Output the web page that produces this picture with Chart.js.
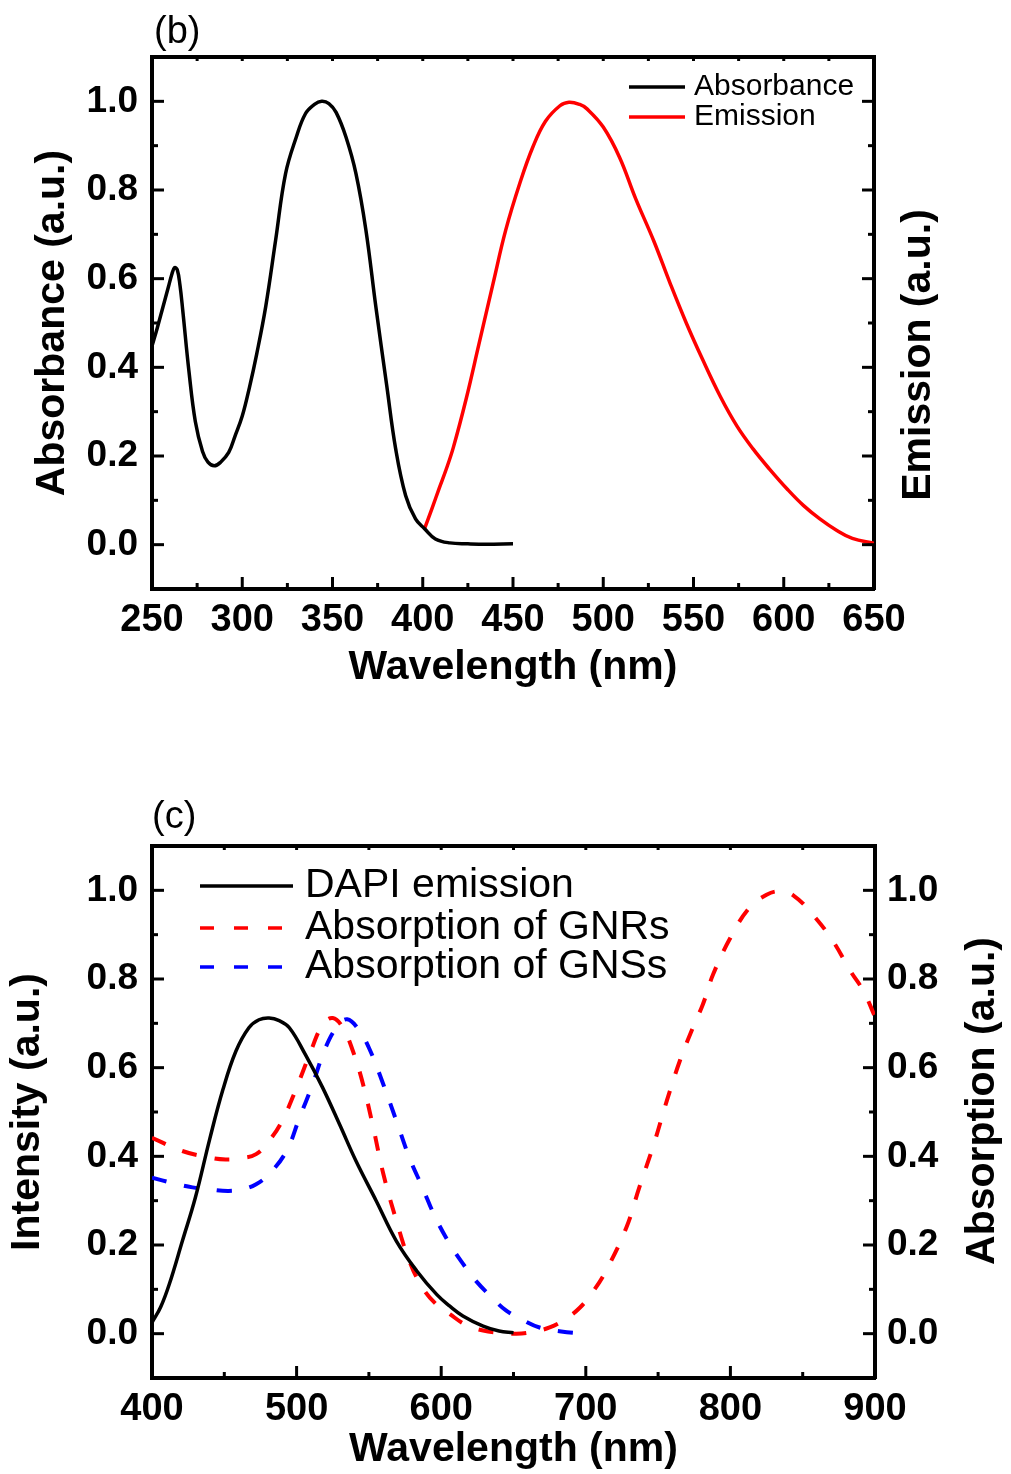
<!DOCTYPE html>
<html>
<head>
<meta charset="utf-8">
<script src="https://cdn.jsdelivr.net/npm/chart.js@4.4.0/dist/chart.umd.min.js"></script>
<style>
  html, body { margin: 0; padding: 0; background: #fff; }
  #wrap { position: relative; width: 1011px; height: 1474px; }
  canvas { position: absolute; left: 0; }
</style>
</head>
<body>
<div id="wrap">
  <canvas id="chartB" width="1011" height="737" style="top:0"></canvas>
  <canvas id="chartC" width="1011" height="737" style="top:737px"></canvas>
</div>
<script>
// (b) absorbance / emission
const absWl = [250, 253, 256, 259, 261, 262.5, 264, 265.5, 267, 270.5, 274, 278, 281, 284.5, 288, 292.5, 296, 300, 304, 308, 313, 318.5, 324, 330, 335, 340, 344, 348, 352, 357.5, 363, 368.5, 374, 380, 385, 390.5, 396, 401, 407, 415, 425, 435, 450];
const absVal = [0.448, 0.49, 0.535, 0.58, 0.61, 0.625, 0.62, 0.585, 0.53, 0.39, 0.278, 0.21, 0.186, 0.178, 0.186, 0.208, 0.245, 0.29, 0.355, 0.43, 0.537, 0.687, 0.837, 0.92, 0.972, 0.993, 1.0, 0.995, 0.975, 0.919, 0.837, 0.71, 0.537, 0.36, 0.216, 0.111, 0.058, 0.036, 0.013, 0.004, 0.002, 0.001, 0.002];
const emWl = [401, 405, 409, 413, 417, 424, 431, 439, 446, 454, 461, 468, 476, 481, 487, 491, 500, 509, 518, 528, 537, 546, 555, 565, 574, 583, 592, 602, 611, 620, 629, 638, 650];
const emVal = [0.036, 0.08, 0.126, 0.17, 0.22, 0.328, 0.45, 0.59, 0.71, 0.818, 0.897, 0.955, 0.99, 0.998, 0.993, 0.983, 0.942, 0.874, 0.78, 0.685, 0.59, 0.5, 0.418, 0.333, 0.268, 0.216, 0.171, 0.125, 0.088, 0.058, 0.033, 0.014, 0.003];

// (c) DAPI emission and gold nanoparticle absorption
const dapiWl = [400, 406, 412, 421, 430, 440, 449, 458, 467, 474, 481, 488, 495, 506, 518, 530, 541, 555, 569, 583, 597, 606, 615, 629, 640, 650];
const dapiVal = [0.025, 0.06, 0.112, 0.209, 0.307, 0.44, 0.55, 0.637, 0.69, 0.708, 0.712, 0.706, 0.69, 0.63, 0.555, 0.47, 0.39, 0.3, 0.209, 0.142, 0.088, 0.062, 0.04, 0.017, 0.006, 0.002];
const gnrWl = [400, 421, 440, 451, 462, 472, 481, 490, 500, 509, 518, 525, 532, 539, 546, 553, 560, 569, 578, 587, 596, 606, 617, 629, 640, 652, 663, 675, 686, 696, 705, 714, 728, 737, 747, 756, 765, 774, 781, 788, 800, 813, 825, 834, 843, 857, 871, 883, 892, 900];
const gnrVal = [0.442, 0.412, 0.397, 0.393, 0.396, 0.405, 0.435, 0.48, 0.555, 0.63, 0.697, 0.712, 0.69, 0.637, 0.562, 0.465, 0.36, 0.255, 0.164, 0.104, 0.068, 0.044, 0.02, 0.007, 0.002, 0.0, 0.004, 0.014, 0.033, 0.059, 0.095, 0.142, 0.239, 0.33, 0.427, 0.525, 0.615, 0.69, 0.743, 0.81, 0.893, 0.96, 0.99, 0.998, 0.99, 0.945, 0.885, 0.818, 0.773, 0.715];
const gnsWl = [400, 414, 428, 441, 453, 463, 472, 481, 493, 502, 511, 520, 529, 535, 542, 550, 560, 569, 578, 587, 596, 606, 615, 624, 635, 645, 657, 668, 683, 698];
const gnsVal = [0.352, 0.34, 0.33, 0.325, 0.322, 0.326, 0.337, 0.36, 0.412, 0.487, 0.562, 0.645, 0.697, 0.709, 0.69, 0.645, 0.562, 0.48, 0.397, 0.33, 0.262, 0.202, 0.158, 0.119, 0.082, 0.052, 0.03, 0.014, 0.005, 0.0];

const FONT = '"Liberation Sans", Arial, Helvetica, sans-serif';
Chart.defaults.font.family = FONT;
Chart.defaults.color = '#000';

function pts(xs, ys) {
    return xs.map((x, i) => ({ x: x, y: ys[i] }));
}

function yLabel(v) {
    let k = Math.round(v * 10);
    return (k % 2 === 0 && k >= 0 && k <= 10) ? (k / 10).toFixed(1) : '';
}

function onStep(v, step) {
    let r = v / step;
    return Math.abs(r - Math.round(r)) < 1e-6;
}

// tick marks drawn inward, like the original plot
const insideTicks = {
    id: 'insideTicks',
    afterDatasetsDraw(chart, args, o) {
        const ctx = chart.ctx;
        const a = chart.chartArea;
        ctx.save();
        ctx.strokeStyle = '#000';
        ctx.lineWidth = 3;
        for (const id in chart.scales) {
            const s = chart.scales[id];
            const len = o.len[id];
            const major = o.major[id];
            s.ticks.forEach(t => {
                const p = s.getPixelForValue(t.value);
                const l = onStep(t.value, major) ? len[0] : len[1];
                ctx.beginPath();
                if (id === 'x' || id === 'x2') {
                    if (p < a.left + 3 || p > a.right - 3) return;
                    const y0 = id === 'x' ? a.bottom : a.top;
                    ctx.moveTo(p, y0);
                    ctx.lineTo(p, id === 'x' ? y0 - l : y0 + l);
                } else {
                    if (p < a.top + 3 || p > a.bottom - 3) return;
                    const x0 = id === 'y' ? a.left : a.right;
                    ctx.moveTo(x0, p);
                    ctx.lineTo(id === 'y' ? x0 + l : x0 - l, p);
                }
                ctx.stroke();
            });
        }
        ctx.restore();
    }
};

// panel letter, legend and right-hand title
const panelText = {
    id: 'panelText',
    afterDraw(chart, args, o) {
        const ctx = chart.ctx;
        const a = chart.chartArea;
        ctx.save();
        ctx.fillStyle = '#000';
        ctx.textBaseline = 'middle';
        ctx.textAlign = 'left';
        ctx.font = '38px ' + FONT;
        ctx.fillText(o.label, a.left + o.labelDx, a.top + o.labelDy);

        chart.data.datasets.forEach((d, i) => {
            const y = a.top + o.legendY[i];
            ctx.strokeStyle = d.borderColor;
            ctx.lineWidth = o.legendLine;
            ctx.setLineDash(d.borderDash ? o.legendDash : []);
            ctx.beginPath();
            ctx.moveTo(a.left + o.legendX1, y);
            ctx.lineTo(a.left + o.legendX2, y);
            ctx.stroke();
            ctx.setLineDash([]);
            ctx.font = o.legendFont + 'px ' + FONT;
            ctx.fillText(d.label, a.left + o.legendTextX, y);
        });

        ctx.translate(a.right + o.rightTitleDx, (a.top + a.bottom) / 2 + o.rightTitleDy);
        ctx.rotate(-Math.PI / 2);
        ctx.textAlign = 'center';
        ctx.font = 'bold 41px ' + FONT;
        ctx.fillText(o.rightTitle, 0, 0);
        ctx.restore();
    }
};

function makeScales(c) {
    const border = { display: true, width: 4, color: '#000' };
    const grid = { display: false, drawTicks: false };
    const tickFont = { size: 37, weight: 'bold' };
    const titleFont = { size: 41, weight: 'bold' };
    const xBase = { type: 'linear', axis: 'x', min: c.xMin, max: c.xMax, border: border, grid: grid };
    const yBase = { type: 'linear', axis: 'y', min: -0.1, max: 1.1, border: border, grid: grid };
    return {
        x: Object.assign({}, xBase, {
            position: 'bottom',
            ticks: { stepSize: c.xStep, autoSkip: false, maxRotation: 0, font: { size: 38, weight: 'bold' }, padding: 9,
                callback: v => onStep(v, c.xMajor) ? String(v) : '' },
            title: { display: true, text: 'Wavelength (nm)', font: titleFont, padding: { top: 0, bottom: c.xTitlePad } },
            afterFit: s => { s.height = c.bottomH; }
        }),
        x2: Object.assign({}, xBase, {
            position: 'top',
            ticks: { stepSize: c.xStep, autoSkip: false, display: false },
            afterFit: s => { s.height = c.topH; }
        }),
        y: Object.assign({}, yBase, {
            position: 'left',
            ticks: { stepSize: 0.1, autoSkip: false, font: tickFont, padding: 14, callback: yLabel },
            title: { display: true, text: c.yTitle, font: titleFont, padding: { top: c.yTitlePad, bottom: 0 } },
            afterFit: s => { s.width = 152; }
        }),
        y2: Object.assign({}, yBase, {
            position: 'right',
            ticks: { stepSize: 0.1, autoSkip: false, display: c.rightLabels, font: tickFont, padding: 12, callback: yLabel },
            afterFit: s => { s.width = c.rightW; }
        })
    };
}

const lineBase = { pointRadius: 0, fill: false, tension: 0.4 };

new Chart(document.getElementById('chartB').getContext('2d'), {
    type: 'line',
    data: {
        datasets: [
            Object.assign({ label: 'Absorbance', data: pts(absWl, absVal), borderColor: '#000000', borderWidth: 3.5, yAxisID: 'y', xAxisID: 'x' }, lineBase),
            Object.assign({ label: 'Emission', data: pts(emWl, emVal), borderColor: '#ff0000', borderWidth: 3.5, yAxisID: 'y2', xAxisID: 'x' }, lineBase)
        ]
    },
    options: {
        responsive: false,
        animation: false,
        devicePixelRatio: 1,
        layout: { padding: 0 },
        scales: makeScales({ xMin: 250, xMax: 650, xStep: 25, xMajor: 50, bottomH: 148, topH: 57, rightW: 137,
            xTitlePad: 45, yTitle: 'Absorbance (a.u.)', yTitlePad: 28, rightLabels: false }),
        plugins: {
            legend: { display: false },
            tooltip: { enabled: false },
            insideTicks: { major: { x: 50, x2: 50, y: 0.2, y2: 0.2 }, len: { x: [12, 6], x2: [4, 4], y: [12, 6], y2: [12, 6] } },
            panelText: { label: '(b)', labelDx: 2, labelDy: -24,
                legendY: [30, 60], legendX1: 477, legendX2: 533, legendTextX: 542, legendFont: 30, legendLine: 3.5, legendDash: [],
                rightTitle: 'Emission (a.u.)', rightTitleDx: 45, rightTitleDy: 32 }
        }
    },
    plugins: [insideTicks, panelText]
});

new Chart(document.getElementById('chartC').getContext('2d'), {
    type: 'line',
    data: {
        datasets: [
            Object.assign({ label: 'DAPI emission', data: pts(dapiWl, dapiVal), borderColor: '#000000', borderWidth: 3.5, yAxisID: 'y', xAxisID: 'x' }, lineBase),
            Object.assign({ label: 'Absorption of GNRs', data: pts(gnrWl, gnrVal), borderColor: '#ff0000', borderWidth: 4, borderDash: [15, 18], yAxisID: 'y2', xAxisID: 'x' }, lineBase),
            Object.assign({ label: 'Absorption of GNSs', data: pts(gnsWl, gnsVal), borderColor: '#0000ff', borderWidth: 4, borderDash: [15, 18], yAxisID: 'y2', xAxisID: 'x' }, lineBase)
        ]
    },
    options: {
        responsive: false,
        animation: false,
        devicePixelRatio: 1,
        layout: { padding: 0 },
        scales: makeScales({ xMin: 400, xMax: 900, xStep: 50, xMajor: 100, bottomH: 96, topH: 109, rightW: 136,
            xTitlePad: 0, yTitle: 'Intensity (a.u.)', yTitlePad: 3, rightLabels: true }),
        plugins: {
            legend: { display: false },
            tooltip: { enabled: false },
            insideTicks: { major: { x: 100, x2: 100, y: 0.2, y2: 0.2 }, len: { x: [12, 6], x2: [4, 4], y: [12, 6], y2: [12, 6] } },
            panelText: { label: '(c)', labelDx: 0, labelDy: -28,
                legendY: [40, 82, 121], legendX1: 48, legendX2: 141, legendTextX: 153, legendFont: 41, legendLine: 3.5, legendDash: [14, 20],
                rightTitle: 'Absorption (a.u.)', rightTitleDx: 108, rightTitleDy: -11 }
        }
    },
    plugins: [insideTicks, panelText]
});
</script>
</body>
</html>
